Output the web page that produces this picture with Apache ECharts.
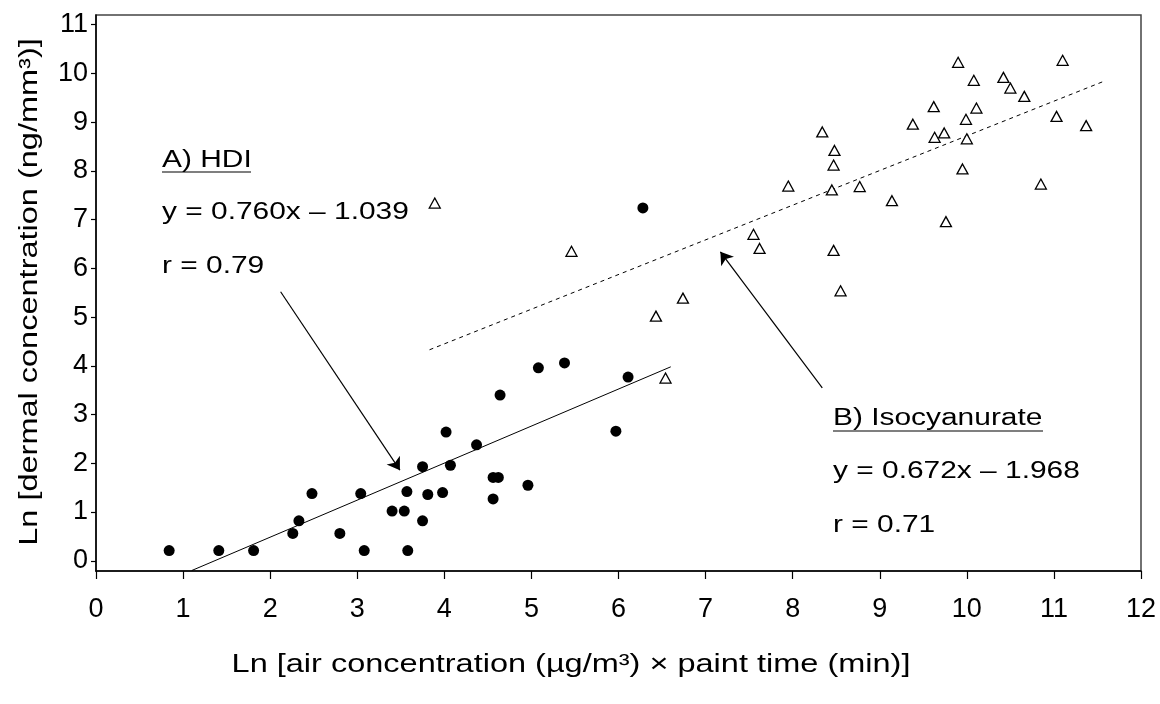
<!DOCTYPE html>
<html>
<head>
<meta charset="utf-8">
<script src="https://cdn.jsdelivr.net/npm/echarts@6/dist/echarts.min.js"></script>
<style>
  html, body { margin: 0; padding: 0; background: #fff; }
  #chart { width: 1160px; height: 704px; }
</style>
</head>
<body>
<div id="chart"></div>
<script>
// tick labels
const xTicks = [0, 1, 2, 3, 4, 5, 6, 7, 8, 9, 10, 11, 12]
const yTicks = [0, 1, 2, 3, 4, 5, 6, 7, 8, 9, 10, 11]

// A) HDI - filled dots [x, y]
const hdiPoints = [
  [0.84, 0.21], [1.41, 0.21], [1.81, 0.21], [2.26, 0.56], [2.33, 0.82],
  [2.48, 1.38], [2.80, 0.56], [3.04, 1.38], [3.08, 0.21], [3.40, 1.02],
  [3.54, 1.02], [3.57, 1.42], [3.58, 0.21], [3.75, 0.82], [3.75, 1.93],
  [3.81, 1.36], [3.98, 1.40], [4.02, 2.64], [4.07, 1.96], [4.37, 2.38],
  [4.56, 1.71], [4.62, 1.71], [4.56, 1.27], [4.64, 3.40], [4.96, 1.55],
  [5.08, 3.96], [5.38, 4.06], [5.97, 2.66], [6.11, 3.77], [6.28, 7.24]
]

// B) Isocyanurate - open triangles [x, y]
const isoPoints = [
  [3.89, 7.34], [5.46, 6.35], [6.43, 5.02], [6.54, 3.75], [6.74, 5.39],
  [7.55, 6.70], [7.62, 6.41], [7.95, 7.69], [8.34, 8.80], [8.45, 7.61],
  [8.47, 8.12], [8.48, 8.42], [8.47, 6.37], [8.55, 5.54], [8.77, 7.68],
  [9.14, 7.39], [9.38, 8.96], [9.62, 9.32], [9.63, 8.69], [9.74, 8.78],
  [9.76, 6.96], [9.90, 10.23], [9.95, 8.04], [9.99, 9.06], [10.00, 8.66],
  [10.08, 9.86], [10.11, 9.29], [10.42, 9.92], [10.50, 9.70], [10.66, 9.53],
  [10.85, 7.73], [11.03, 9.12], [11.10, 10.27], [11.37, 8.93]
]

// fitted lines, end points as drawn
const hdiFit = [[1.1, -0.2], [6.6, 3.98]]
const isoFit = [[3.83, 4.33], [11.56, 9.83]]

// annotation arrows [from, to]
const hdiArrow = [[2.12, 5.52], [3.49, 1.86]]
const isoArrow = [[8.34, 3.55], [7.17, 6.34]]

const FONT = '"Liberation Sans", Arial, sans-serif'

function txt(text, x, y, size, align, extra) {
  return Object.assign({
    type: 'text', x: x, y: y, scaleX: 1.3,
    style: {
      text: text, font: size + 'px ' + FONT, fill: '#000',
      textAlign: align, textVerticalAlign: 'middle', align: align, verticalAlign: 'middle'
    }
  }, extra || {})
}

function uline(x1, x2, y) {
  return { type: 'line', shape: { x1: x1, y1: y, x2: x2, y2: y }, style: { stroke: '#000', lineWidth: 1.2 } }
}

const chart = echarts.init(document.getElementById('chart'))

const option = {
  animation: false,
  backgroundColor: '#fff',
  grid: {
    left: 96, right: 19, top: 15, bottom: 133,
    show: true, borderColor: '#444', borderWidth: 1.5, backgroundColor: 'transparent'
  },
  xAxis: {
    type: 'value', min: 0, max: 12,
    splitLine: { show: false },
    axisLine: { onZero: false, lineStyle: { color: '#000', width: 1.5 } },
    axisTick: { customValues: xTicks, length: 8, lineStyle: { color: '#000', width: 1.2 } },
    axisLabel: { customValues: xTicks, margin: 25, fontSize: 27, fontFamily: FONT, color: '#000' }
  },
  yAxis: {
    type: 'value', min: -0.21, max: 11.2,
    splitLine: { show: false },
    axisLine: { onZero: false, lineStyle: { color: '#000', width: 1.5 } },
    axisTick: { customValues: yTicks, length: 5, lineStyle: { color: '#000', width: 1.2 } },
    axisLabel: { customValues: yTicks, margin: 8, fontSize: 27, fontFamily: FONT, color: '#000' }
  },
  series: [
    {
      name: 'HDI fit', type: 'line', data: hdiFit, symbol: 'none',
      lineStyle: { color: '#000', width: 1 }, z: 2
    },
    {
      name: 'Isocyanurate fit', type: 'line', data: isoFit, symbol: 'none',
      lineStyle: { color: '#000', width: 1, type: [4, 4] }, z: 2
    },
    {
      name: 'HDI', type: 'scatter', data: hdiPoints, symbol: 'circle', symbolSize: 11,
      itemStyle: { color: '#000', opacity: 1 }, z: 3
    },
    {
      name: 'Isocyanurate', type: 'scatter', data: isoPoints, symbol: 'triangle', symbolSize: [11, 10],
      itemStyle: { color: '#fff', borderColor: '#000', borderWidth: 1.3, opacity: 1 }, z: 3
    },
    {
      name: 'arrows', type: 'lines', coordinateSystem: 'cartesian2d',
      data: [{ coords: hdiArrow }, { coords: isoArrow }],
      symbol: ['none', 'arrow'], symbolSize: 12,
      lineStyle: { color: '#000', width: 1.2, opacity: 1 }, z: 4
    }
  ],
  graphic: [
    txt('A) HDI', 162, 161, 23, 'left'),
    uline(162, 251, 172),
    txt('y = 0.760x \u2013 1.039', 162, 213, 23, 'left'),
    txt('r = 0.79', 162, 267, 23, 'left'),
    txt('B) Isocyanurate', 833, 419, 23, 'left'),
    uline(833, 1043, 431),
    txt('y = 0.672x \u2013 1.968', 833, 472, 23, 'left'),
    txt('r = 0.71', 833, 526, 23, 'left'),
    txt('Ln [air concentration (\u00b5g/m\u00b3) \u00d7 paint time (min)]', 571, 665, 25, 'center'),
    txt('Ln [dermal concentration (ng/mm\u00b3)]', 30, 292, 25, 'center', { rotation: Math.PI / 2 })
  ]
}

chart.setOption(option)
</script>
</body>
</html>
